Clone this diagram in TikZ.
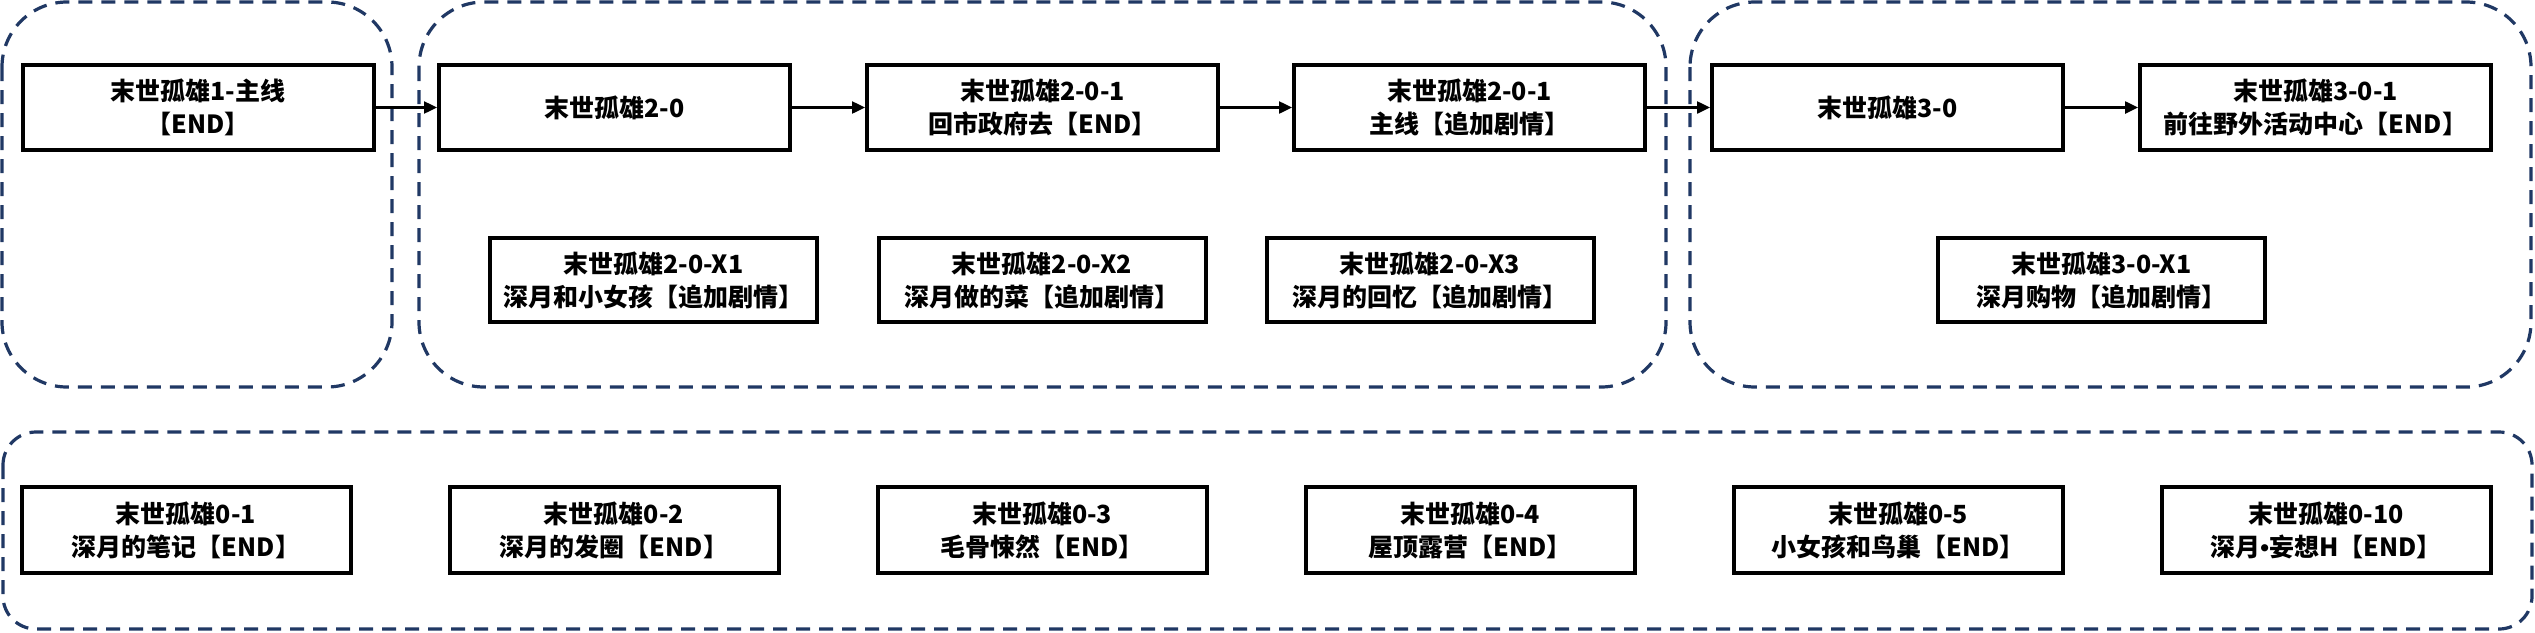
\documentclass[tikz,border=0pt]{standalone}
\usepackage{fontspec}
\setmainfont{Noto Sans CJK SC}
\newfontfamily\bulletfont{Liberation Sans}
\usetikzlibrary{arrows.meta}
\definecolor{grpblue}{HTML}{203864}
\begin{document}
\begin{tikzpicture}[x=0.5pt,y=-0.5pt,
  box/.style={draw=black, line width=2pt, fill=white, minimum width=175.5pt,
    minimum height=42.5pt, align=center, inner sep=0pt,
    font=\bfseries\fontsize{12.5}{16.5}\selectfont},
  xbox/.style={box, minimum width=163.5pt, minimum height=42pt},
  zbox/.style={box, minimum width=164.5pt, minimum height=43pt},
  grp/.style={draw=grpblue, line width=1.6pt, dash pattern=on 7pt off 4.5pt},
  arr/.style={draw=black, line width=1.2pt, -{Triangle[length=6.5pt,width=6pt]}}
]
\useasboundingbox (0,0) rectangle (2535,632);

% group frames
\draw[grp, rounded corners=32.5pt] (2,2) rectangle (392,387);
\draw[grp, rounded corners=32.5pt] (419,2) rectangle (1666,387);
\draw[grp, rounded corners=32.5pt] (1690,2) rectangle (2531,387);
\draw[grp, rounded corners=16.5pt] (3,432) rectangle (2532,629);

% main row
\node[box] (b1)    at (198,107.5)    {末世孤雄1-主线\\【END】};
\node[box] (b20)   at (614.5,107.5)  {末世孤雄2-0};
\node[box] (b201)  at (1042.5,107.5) {末世孤雄2-0-1\\回市政府去【END】};
\node[box] (b2011) at (1469.5,107.5) {末世孤雄2-0-1\\主线【追加剧情】};
\node[box] (b30)   at (1887.5,107.5) {末世孤雄3-0};
\node[box] (b301)  at (2315.5,107.5) {末世孤雄3-0-1\\前往野外活动中心【END】};

% extra row
\node[xbox] (x1)  at (653.5,280)  {末世孤雄2-0-X1\\深月和小女孩【追加剧情】};
\node[xbox] (x2)  at (1042,280)   {末世孤雄2-0-X2\\深月做的菜【追加剧情】};
\node[xbox] (x3)  at (1430,280)   {末世孤雄2-0-X3\\深月的回忆【追加剧情】};
\node[xbox] (x31) at (2101.5,280) {末世孤雄3-0-X1\\深月购物【追加剧情】};

% bottom row
\node[zbox] (z1)  at (186,530)  {末世孤雄0-1\\深月的笔记【END】};
\node[zbox] (z2)  at (614,530)  {末世孤雄0-2\\深月的发圈【END】};
\node[zbox] (z3)  at (1042,530) {末世孤雄0-3\\毛骨悚然【END】};
\node[zbox] (z4)  at (1470,530) {末世孤雄0-4\\屋顶露营【END】};
\node[zbox] (z5)  at (1898,530) {末世孤雄0-5\\小女孩和鸟巢【END】};
\node[zbox] (z10) at (2326,530) {末世孤雄0-10\\深月{\bulletfont\bfseries •}妄想H【END】};

% connectors
\draw[arr] (b1) -- (b20);
\draw[arr] (b20) -- (b201);
\draw[arr] (b201) -- (b2011);
\draw[arr] (b2011) -- (b30);
\draw[arr] (b30) -- (b301);
\end{tikzpicture}
\end{document}
